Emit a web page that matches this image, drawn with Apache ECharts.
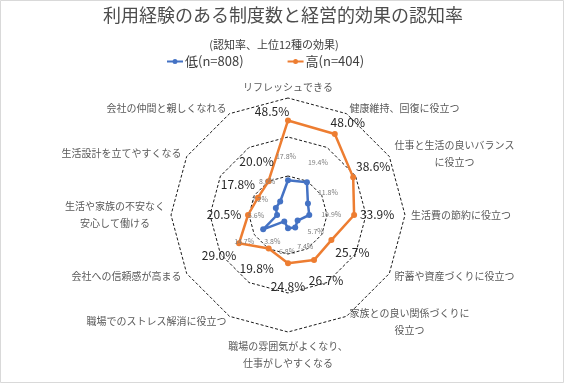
<!DOCTYPE html>
<html><head><meta charset="utf-8">
<script src="https://cdn.jsdelivr.net/npm/echarts@6/dist/echarts.min.js"></script>
<style>html,body{margin:0;padding:0;background:#fff}#c{width:567px;height:385px}</style>
</head><body><div id="c"></div>
<script>
// ---- data (clockwise from top) ----
const categories = [
  'リフレッシュできる',
  '健康維持、回復に役立つ',
  '仕事と生活の良いバランス\nに役立つ',
  '生活費の節約に役立つ',
  '貯蓄や資産づくりに役立つ',
  '家族との良い関係づくりに\n役立つ',
  '職場の雰囲気がよくなり、\n仕事がしやすくなる',
  '職場でのストレス解消に役立つ',
  '会社への信頼感が高まる',
  '生活や家族の不安なく\n安心して働ける',
  '生活設計を立てやすくなる',
  '会社の仲間と親しくなれる'
];
const lowValues  = [17.8, 19.4, 11.8, 10.9, 5.7, 7.4, 6.8, 3.8, 14.7, 5.6, 7.2, 8.0];
const highValues = [48.5, 48.0, 38.6, 33.9, 25.7, 26.7, 24.8, 19.8, 29.0, 20.5, 17.8, 20.0];
const seriesNames = ['低(n=808)', '高(n=404)'];
const axisMax = 60;
const titleText = '利用経験のある制度数と経営的効果の認知率';
const subTitleText = '(認知率、上位12種の効果)';

// ---- layout / style ----
const FONT = '"Noto Sans CJK JP", "Noto Sans", sans-serif';
const CX = 288, CY = 215, R = 117;
const n = categories.length;
// ECharts radar places indicators counter-clockwise; reorder so it reads clockwise
const order = categories.map((_, i) => (n - i) % n);
const indicators = order.map(i => ({ name: categories[i], max: axisMax }));
const reorder = arr => order.map(i => arr[i]);

// label offsets (px) relative to each vertex, by clockwise position from top
const highOffsets = [[-16,-9],[13,-12],[20,-11],[23,-1],[21,12],[12,20],[0,23],[-12,20],[-20,12],[-24,-1],[-20,-13],[-12,-20]];
const lowOffsets  = [[-2,-24],[11,-20],[20,-11],[22,-1],[18,11],[10,19],[-1,23],[-12,20],[-19,12],[-21,0],[-16,-9],[-13,-20]];

function layoutWith(offsets) {
  return function (p) {
    const x = p.rect.x + p.rect.width / 2, y = p.rect.y + p.rect.height / 2;
    let a = Math.atan2(x - CX, CY - y) * 180 / Math.PI;
    if (a < 0) a += 360;
    const k = Math.round(a / (360 / n)) % n;
    const o = offsets[k];
    return { x: x + o[0], y: y + o[1], align: 'center', verticalAlign: 'middle' };
  };
}
const fmt = p => {
  const v = Array.isArray(p.value) ? p.value[0] : p.value;
  return Number(v).toFixed(1) + '%';
};

const chart = echarts.init(document.getElementById('c'), null, { renderer: 'canvas' });
chart.setOption({
  animation: false,
  backgroundColor: '#ffffff',
  title: [
    { text: titleText, left: 283, top: 6, textAlign: 'center', padding: 0,
      textStyle: { fontSize: 18, fontWeight: 'normal', color: '#4d4d4d', fontFamily: FONT } },
    { text: subTitleText, left: 274, top: 39, textAlign: 'center', padding: 0,
      textStyle: { fontSize: 11, fontWeight: 'normal', color: '#404040', fontFamily: FONT } }
  ],
  legend: {
    data: seriesNames,
    left: 167, top: 55, padding: 0,
    itemGap: 44, itemWidth: 16, itemHeight: 5,
    icon: 'path://M0,3.1H16V4.9H0Z M10.5,4A2.5,2.5,0,1,1,5.5,4A2.5,2.5,0,1,1,10.5,4Z',
    textStyle: { fontSize: 13, color: '#404040', fontFamily: FONT, padding: [0, 0, 0, -3] }
  },
  graphic: [{
    type: 'rect', silent: true, z: -1,
    shape: { x: 0.5, y: 0.5, width: 563, height: 382 },
    style: { fill: 'none', stroke: '#d9d9d9', lineWidth: 1 }
  }],
  radar: {
    center: [CX, CY], radius: R, startAngle: 90, splitNumber: 3, shape: 'polygon',
    indicator: indicators,
    nameGap: 6,
    axisName: {
      color: '#595959', fontSize: 10, fontFamily: FONT,
      formatter: name => name.indexOf('\n') >= 0
        ? name.split('\n').map(s => '{c|' + s + '}').join('\n') : name,
      rich: { c: { align: 'center', fontSize: 10, lineHeight: 17, color: '#595959', fontFamily: FONT } }
    },
    axisLine: { show: false }, axisTick: { show: false }, axisLabel: { show: false },
    splitLine: { lineStyle: { color: '#1a1a1a', type: [3, 2], width: 1 } },
    splitArea: { show: false }
  },
  series: [
    {
      type: 'radar', name: seriesNames[0], z: 3,
      symbol: 'circle', symbolSize: 6,
      lineStyle: { width: 2.5, color: '#4472C4' },
      itemStyle: { color: '#4472C4' },
      label: { show: true, formatter: fmt, fontSize: 7, color: '#7f7f7f', fontFamily: FONT },
      labelLayout: layoutWith(lowOffsets),
      data: [{ name: seriesNames[0], value: reorder(lowValues) }]
    },
    {
      type: 'radar', name: seriesNames[1], z: 2,
      symbol: 'circle', symbolSize: 6,
      lineStyle: { width: 2.5, color: '#ED7D31' },
      itemStyle: { color: '#ED7D31' },
      label: { show: true, formatter: fmt, fontSize: 12, color: '#262626', fontFamily: FONT },
      labelLayout: layoutWith(highOffsets),
      data: [{ name: seriesNames[1], value: reorder(highValues) }]
    }
  ]
});
</script>
</body></html>
